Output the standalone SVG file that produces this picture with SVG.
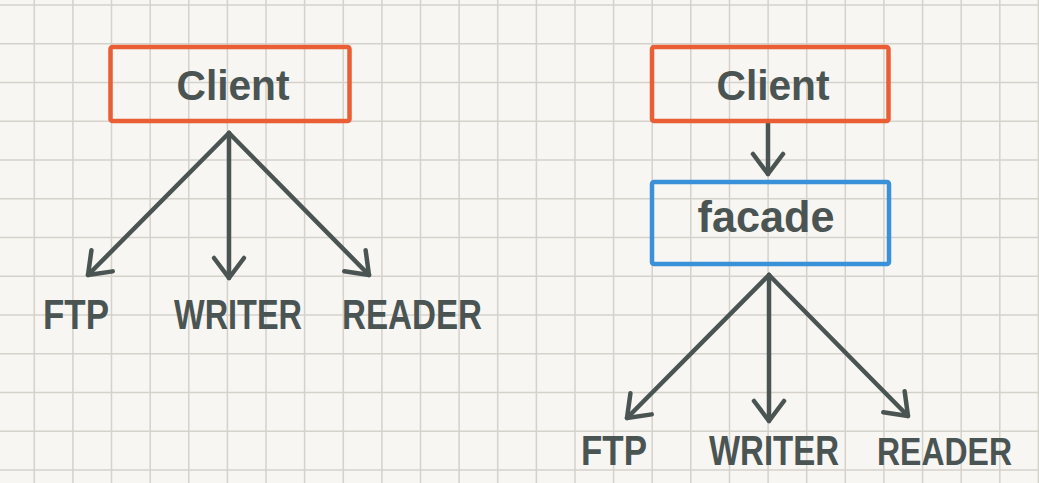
<svg xmlns="http://www.w3.org/2000/svg" width="1039" height="483" viewBox="0 0 1039 483">
<style>
.grid{stroke:#d5d1cb;stroke-width:1.5;fill:none}
.box{fill:none;stroke-width:4.5;stroke-linejoin:round}
.client{stroke:#ea5e36}
.facade{stroke:#3a91d9}
.lbl{font-family:"Liberation Sans","DejaVu Sans",sans-serif;font-weight:bold;fill:#4a5452}
.edge{stroke:#4a5452;stroke-width:4.5;stroke-linecap:round;fill:none}
</style>
<defs>
<marker id="arr" markerUnits="userSpaceOnUse" viewBox="-30 -25 40 50" markerWidth="40" markerHeight="50" refX="0" refY="0" orient="auto" overflow="visible">
<path d="M-20,-15 L0,0 L-20,15" fill="none" stroke="#4a5452" stroke-width="4.5" stroke-linecap="round" stroke-linejoin="round"/>
</marker>
</defs>
<rect width="1039" height="483" fill="#f8f6f2"/>
<path class="grid" d="M34.3,0V483M72.9,0V483M111.5,0V483M150.2,0V483M188.8,0V483M227.4,0V483M266,0V483M304.6,0V483M343.3,0V483M381.9,0V483M420.5,0V483M459.1,0V483M497.7,0V483M536.4,0V483M575,0V483M613.6,0V483M652.2,0V483M690.8,0V483M729.5,0V483M768.1,0V483M806.7,0V483M845.3,0V483M883.9,0V483M922.6,0V483M961.2,0V483M999.8,0V483M1038.4,0V483M0,5H1039M0,43.75H1039M0,82.5H1039M0,121.25H1039M0,160H1039M0,198.75H1039M0,237.5H1039M0,276.25H1039M0,315H1039M0,353.75H1039M0,392.5H1039M0,431.25H1039M0,470H1039"/>
<g id="connectors">
<path class="edge" marker-end="url(#arr)" d="M229,133 L88,275"/>
<path class="edge" marker-end="url(#arr)" d="M229,133 L229,278"/>
<path class="edge" marker-end="url(#arr)" d="M229,133 L369,275"/>
<path class="edge" marker-end="url(#arr)" d="M768,121 L768,174"/>
<path class="edge" marker-end="url(#arr)" d="M769,275 L627,418"/>
<path class="edge" marker-end="url(#arr)" d="M769,275 L769,421"/>
<path class="edge" marker-end="url(#arr)" d="M769,275 L908,416"/>
</g>
<g id="client-left">
<rect class="box client" x="110.5" y="47" width="239" height="74" rx="2"/>
<text class="lbl" x="176.5" y="100" font-size="42" text-anchor="start" textLength="113" lengthAdjust="spacingAndGlyphs">Client</text>
</g>
<g id="ftp-left"><text class="lbl" x="43" y="329" font-size="42" text-anchor="start" textLength="66" lengthAdjust="spacingAndGlyphs">FTP</text></g>
<g id="writer-left"><text class="lbl" x="174" y="329" font-size="42" text-anchor="start" textLength="128" lengthAdjust="spacingAndGlyphs">WRITER</text></g>
<g id="reader-left"><text class="lbl" x="342" y="329" font-size="42" text-anchor="start" textLength="140" lengthAdjust="spacingAndGlyphs">READER</text></g>
<g id="client-right">
<rect class="box client" x="652" y="47" width="236.5" height="74" rx="2"/>
<text class="lbl" x="716.5" y="100" font-size="42" text-anchor="start" textLength="113" lengthAdjust="spacingAndGlyphs">Client</text>
</g>
<g id="facade">
<rect class="box facade" x="652" y="182" width="237" height="82" rx="2"/>
<text class="lbl" x="697.5" y="232" font-size="44" text-anchor="start" textLength="137" lengthAdjust="spacingAndGlyphs">facade</text>
</g>
<g id="ftp-right"><text class="lbl" x="581" y="465" font-size="42" text-anchor="start" textLength="66" lengthAdjust="spacingAndGlyphs">FTP</text></g>
<g id="writer-right"><text class="lbl" x="709" y="465" font-size="42" text-anchor="start" textLength="130" lengthAdjust="spacingAndGlyphs">WRITER</text></g>
<g id="reader-right"><text class="lbl" x="877" y="465" font-size="38" text-anchor="start" textLength="135" lengthAdjust="spacingAndGlyphs">READER</text></g>
</svg>
